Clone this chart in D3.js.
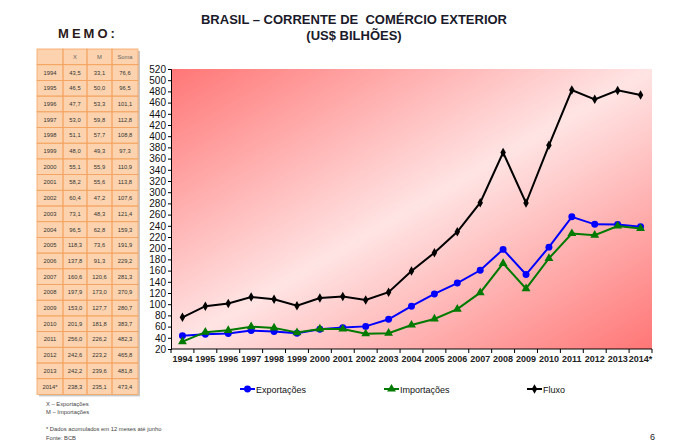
<!DOCTYPE html>
<html><head><meta charset="utf-8">
<script src="https://cdn.jsdelivr.net/npm/d3@7"></script>
<style>
html,body{margin:0;padding:0;background:#fff;}
svg{display:block;font-family:"Liberation Sans",Arial,sans-serif;}
</style></head>
<body>
<svg id="c" width="680" height="448"></svg>
<script>
const years = ["1994","1995","1996","1997","1998","1999","2000","2001","2002","2003","2004","2005","2006","2007","2008","2009","2010","2011","2012","2013","2014*"];
const exportacoes = [43.5,46.5,47.7,53.0,51.1,48.0,55.1,58.2,60.4,73.1,96.5,118.3,137.8,160.6,197.9,153.0,201.9,256.0,242.6,242.2,238.3];
const importacoes = [33.1,50.0,53.3,59.8,57.7,49.3,55.9,55.6,47.2,48.3,62.8,73.6,91.3,120.6,173.0,127.7,181.8,226.2,223.2,239.6,235.1];
const fluxo = [76.6,96.5,101.1,112.8,108.8,97.3,110.9,113.8,107.6,121.4,159.3,191.9,229.2,281.3,370.9,280.7,383.7,482.3,465.8,481.8,473.4];
const yTicks = d3.range(20, 521, 20);
const tableHeader = ["", "X", "M", "Soma"];

const svg = d3.select("#c");
const defs = svg.append("defs");
const g = defs.append("linearGradient").attr("id","bg")
  .attr("x1",0).attr("y1",0).attr("x2",1).attr("y2",1);
g.append("stop").attr("offset","0").attr("stop-color","#ff7676");
g.append("stop").attr("offset","0.5").attr("stop-color","#ffe4e4");
g.append("stop").attr("offset","1").attr("stop-color","#ff7676");

// Titles
svg.append("text").attr("x",354).attr("y",24).attr("text-anchor","middle")
  .attr("font-size",13).attr("font-weight","bold").attr("fill","#1a1a2a")
  .attr("xml:space","preserve").text("BRASIL – CORRENTE DE  COMÉRCIO EXTERIOR");
svg.append("text").attr("x",354).attr("y",40).attr("text-anchor","middle")
  .attr("font-size",13).attr("font-weight","bold").attr("fill","#1a1a2a")
  .text("(US$ BILHÕES)");
svg.append("text").attr("x",88).attr("y",38).attr("text-anchor","middle")
  .attr("font-size",13).attr("font-weight","bold").attr("fill","#2a1a1a")
  .attr("letter-spacing",3).text("MEMO:");

// Chart
const L=171, T=69, R=652, B=349;
const x = d3.scaleBand().domain(years).range([L,R]);
const y = d3.scaleLinear().domain([20,520]).range([B,T]);

svg.append("rect").attr("x",L).attr("y",T).attr("width",R-L).attr("height",B-T).attr("fill","url(#bg)");

const yAxis = svg.append("g").attr("transform",`translate(${L},0)`)
  .call(d3.axisLeft(y).tickValues(yTicks).tickSize(3).tickPadding(2).tickFormat(d3.format("d")));
yAxis.selectAll("text").attr("font-size",10).attr("fill","#111");
yAxis.selectAll("line,path").attr("stroke","#000");

const xAxis = svg.append("g").attr("transform",`translate(0,${B})`)
  .call(d3.axisBottom(x).tickSize(0).tickPadding(7));
xAxis.selectAll("text").attr("font-size",9).attr("font-weight","bold").attr("fill","#222");
xAxis.select("path").attr("stroke","#000").attr("d",`M${L},0H${R}`);
// tick marks at band boundaries
xAxis.selectAll("line.b").data(d3.range(years.length+1)).enter().append("line")
  .attr("class","b").attr("x1",i=>L+i*x.bandwidth()).attr("x2",i=>L+i*x.bandwidth())
  .attr("y1",0).attr("y2",4).attr("stroke","#000");

const cx = d => x(d) + x.bandwidth()/2;
const series = [
  {name:"Exportações", vals:exportacoes, color:"#0000ff", sym:d3.symbolCircle, size:38},
  {name:"Importações", vals:importacoes, color:"#007a00", sym:d3.symbolTriangle, size:34},
  {name:"Fluxo", vals:fluxo, color:"#000", sym:d3.symbolDiamond, size:26}
];
const line = d3.line().x(d=>cx(d[0])).y(d=>y(d[1]));
series.forEach(s=>{
  const pts = years.map((yr,i)=>[yr,s.vals[i]]);
  svg.append("path").attr("d",line(pts)).attr("fill","none").attr("stroke",s.color).attr("stroke-width",2);
  svg.append("g").selectAll("path").data(pts).enter().append("path")
    .attr("d",d3.symbol().type(s.sym).size(s.size))
    .attr("transform",d=>`translate(${cx(d[0])},${y(d[1])})`)
    .attr("fill",s.color);
});

// Legend
const legend = [{s:series[0],x:240},{s:series[1],x:384},{s:series[2],x:527}];
legend.forEach(l=>{
  const gg = svg.append("g").attr("transform",`translate(${l.x},389)`);
  gg.append("line").attr("x1",0).attr("x2",15).attr("stroke",l.s.color).attr("stroke-width",2);
  gg.append("path").attr("d",d3.symbol().type(l.s.sym).size(l.s.size)).attr("transform","translate(7.5,0)").attr("fill",l.s.color);
  gg.append("text").attr("x",16).attr("y",3.5).attr("font-size",9).attr("fill","#111").text(l.s.name);
});

// Table
const colX = [37,63,87,112,138];
const tTop = 49, rowH = 15.7;
const rows = [tableHeader].concat(years.map((yr,i)=>[yr,
  d3.format(".1f")(exportacoes[i]).replace(".",","),
  d3.format(".1f")(importacoes[i]).replace(".",","),
  d3.format(".1f")(fluxo[i]).replace(".",",")]));
const tH = rows.length*rowH;
svg.append("rect").attr("x",colX[0]+2).attr("y",tTop+2).attr("width",colX[4]-colX[0]).attr("height",tH).attr("fill","#c8c8c8");
svg.append("rect").attr("x",colX[0]).attr("y",tTop).attr("width",colX[4]-colX[0]).attr("height",tH).attr("fill","#fcd3ae");
rows.forEach((r,ri)=>{
  r.forEach((v,ci)=>{
    svg.append("rect").attr("x",colX[ci]).attr("y",tTop+ri*rowH)
      .attr("width",colX[ci+1]-colX[ci]).attr("height",rowH)
      .attr("fill","none").attr("stroke","#f4a460").attr("stroke-width",0.8);
    svg.append("text").attr("x",(colX[ci]+colX[ci+1])/2).attr("y",tTop+ri*rowH+rowH/2+2)
      .attr("text-anchor","middle").attr("font-size",5.8)
      .attr("fill",ri===0?"#666":"#333").text(v);
  });
});

// Footnotes
const notes = [["X – Exportações",406],["M – Importações",414],["* Dados acumulados em 12 meses até junho",431],["Fonte: BCB",440]];
notes.forEach(n=>svg.append("text").attr("x",46).attr("y",n[1]).attr("font-size",5.8).attr("fill","#444").text(n[0]));
svg.append("text").attr("x",650).attr("y",440).attr("font-size",9).attr("fill","#222").text("6");
</script>
</body></html>
